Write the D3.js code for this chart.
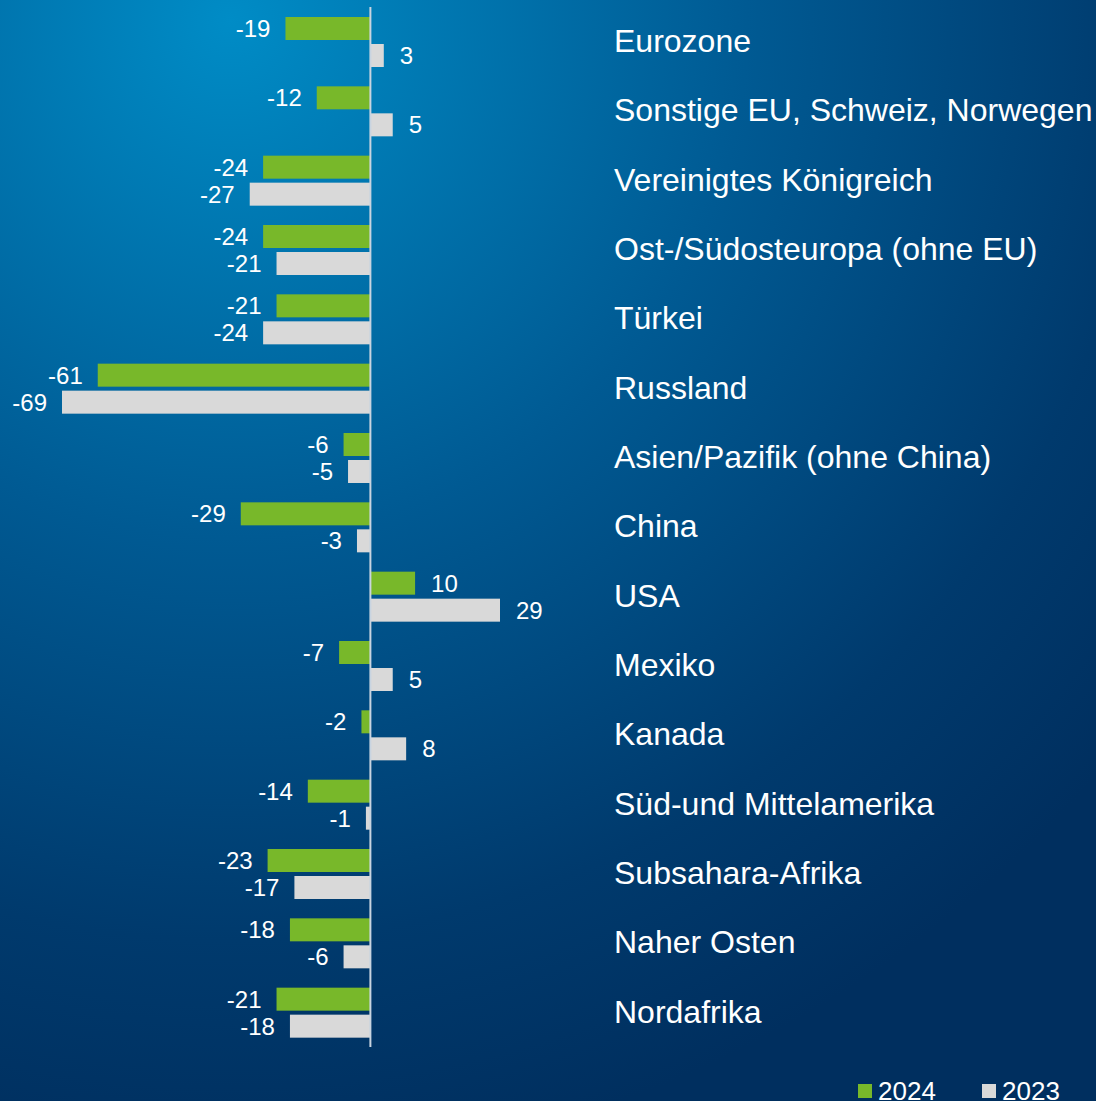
<!DOCTYPE html>
<html>
<head>
<meta charset="utf-8">
<script src="https://cdn.jsdelivr.net/npm/d3@7"></script>
<style>
  html, body { margin: 0; padding: 0; }
  body { width: 1096px; height: 1101px; overflow: hidden; }
  svg { display: block; font-family: "Liberation Sans", Arial, sans-serif; }
</style>
</head>
<body>
<div id="wrapper"></div>
<script>
// 1. Data
const regions = [
  'Eurozone',
  'Sonstige EU, Schweiz, Norwegen',
  'Vereinigtes Königreich',
  'Ost-/Südosteuropa (ohne EU)',
  'Türkei',
  'Russland',
  'Asien/Pazifik (ohne China)',
  'China',
  'USA',
  'Mexiko',
  'Kanada',
  'Süd-und Mittelamerika',
  'Subsahara-Afrika',
  'Naher Osten',
  'Nordafrika',
]
const values2024 = [-19, -12, -24, -24, -21, -61, -6, -29, 10, -7, -2, -14, -23, -18, -21]
const values2023 = [3, 5, -27, -21, -24, -69, -5, -3, 29, 5, 8, -1, -17, -6, -18]
const seriesNames = ['2024', '2023']
const seriesColors = ['#78b82a', '#d9d9d9']

// 2. Dimensions
const dimensions = { width: 1096, height: 1101 }

// 3. Canvas
const svg = d3
  .select('#wrapper')
  .append('svg')
  .attr('width', dimensions.width)
  .attr('height', dimensions.height)

const defs = svg.append('defs')
const grad = defs
  .append('radialGradient')
  .attr('id', 'bg')
  .attr('gradientUnits', 'userSpaceOnUse')
  .attr('cx', 230)
  .attr('cy', 20)
  .attr('r', 1150)
grad.append('stop').attr('offset', '0%').attr('stop-color', '#008cc6')
grad.append('stop').attr('offset', '45%').attr('stop-color', '#005a93')
grad.append('stop').attr('offset', '80%').attr('stop-color', '#003a6d')
grad.append('stop').attr('offset', '100%').attr('stop-color', '#002f5f')

svg
  .append('rect')
  .attr('width', dimensions.width)
  .attr('height', dimensions.height)
  .attr('fill', 'url(#bg)')

// 4. Scales
const xScale = d3.scaleLinear().domain([-69, 29]).range([62, 500])

const yScale = d3
  .scaleBand()
  .domain(regions)
  .range([7.5, 1047.5])
  .paddingInner(0)

const barHeight = 23
const barOffsets = [9.5, 36.5]

// 5. Bars
const series = [values2024, values2023]
series.forEach((vals, s) => {
  const g = svg.append('g').attr('class', 'series-' + seriesNames[s])
  g.selectAll('rect')
    .data(regions)
    .join('rect')
    .attr('x', (d, i) => Math.min(xScale(0), xScale(vals[i])))
    .attr('y', (d) => yScale(d) + barOffsets[s])
    .attr('width', (d, i) => Math.abs(xScale(vals[i]) - xScale(0)))
    .attr('height', barHeight)
    .attr('fill', seriesColors[s])

  g.selectAll('text')
    .data(regions)
    .join('text')
    .attr('x', (d, i) =>
      vals[i] < 0 ? xScale(vals[i]) - 15 : xScale(vals[i]) + 16
    )
    .attr('y', (d) => yScale(d) + barOffsets[s] + barHeight / 2)
    .attr('dy', '0.36em')
    .attr('text-anchor', (d, i) => (vals[i] < 0 ? 'end' : 'start'))
    .attr('fill', '#ffffff')
    .style('font-size', '24px')
    .text((d, i) => vals[i])
})

// zero line
svg
  .append('line')
  .attr('x1', xScale(0))
  .attr('x2', xScale(0))
  .attr('y1', 7)
  .attr('y2', 1047)
  .attr('stroke', '#c8d4e0')
  .attr('stroke-width', 2)

// 6. Category labels
svg
  .append('g')
  .selectAll('text')
  .data(regions)
  .join('text')
  .attr('x', 614)
  .attr('y', (d) => yScale(d) + 33)
  .attr('dy', '0.36em')
  .attr('fill', '#ffffff')
  .style('font-size', '32px')
  .text((d) => d)

// Legend
const legend = svg.append('g').attr('transform', 'translate(858, 1091)')
const legendX = [0, 124]
seriesNames.forEach((name, i) => {
  legend
    .append('rect')
    .attr('x', legendX[i])
    .attr('y', -7)
    .attr('width', 14)
    .attr('height', 14)
    .attr('fill', seriesColors[i])
  legend
    .append('text')
    .attr('x', legendX[i] + 20)
    .attr('y', 0)
    .attr('dy', '0.36em')
    .attr('fill', '#ffffff')
    .style('font-size', '26px')
    .text(name)
})
</script>
</body>
</html>
